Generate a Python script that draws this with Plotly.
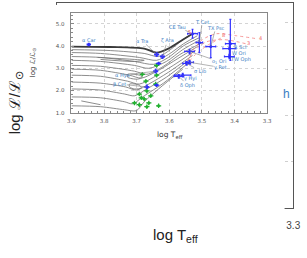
import plotly.graph_objects as go

W, H = 307, 258

# ---------------- data ----------------
star_names = ["α Car", "α Tra", "ζ Ara", "α Hya", "β Cet", "CE Tau", "T Cet", "TX Psc",
              "ο<sub>1</sub> Ori", "γ Ret", "σ Lib", "γ Hyi", "δ Oph", "R Scl", "W Ori", "TW Oph"]
star_logT = [3.847, 3.639, 3.621, 3.642, 3.669, 3.529, 3.508, 3.473,
             3.538, 3.538, 3.547, 3.559, 3.571, 3.413, 3.416, 3.416]
star_logL = [4.07, 3.62, 3.53, 2.87, 2.16, 4.56, 4.16, 3.98,
             3.76, 3.27, 3.22, 2.69, 2.64, 4.11, 3.89, 3.53]
star_errT = [0.005, 0.006, 0.006, 0.006, 0.006, 0.015, 0.010, 0.015,
             0.015, 0.012, 0.012, 0.025, 0.015, 0.015, 0.020, 0.015]
star_errL_up = [0.05, 0.08, 0.08, 0.08, 0.08, 0.20, 0.45, 0.50,
                0.10, 0.08, 0.08, 0.08, 0.08, 1.10, 0.35, 0.10]
star_errL_down = [0.05, 0.08, 0.08, 0.08, 0.08, 0.20, 0.45, 0.50,
                  0.10, 0.08, 0.08, 0.08, 0.08, 0.75, 0.35, 0.10]
# label anchor positions (log Teff, log L)
label_logT = [3.847, 3.683, 3.606, 3.743, 3.752, 3.574, 3.499, 3.458,
              3.449, 3.443, 3.505, 3.535, 3.544, 3.382, 3.387, 3.381]
label_logL = [4.29, 4.24, 4.24, 2.69, 2.29, 4.87, 5.09, 4.82,
              3.31, 3.04, 2.87, 2.56, 2.24, 3.97, 3.69, 3.41]
label_connector = [False, True, True, True, True, True, True, True,
                   True, True, True, True, True, False, False, False]

extra_blue_logT = [3.633, 3.639]
extra_blue_logL = [3.22, 2.24]

green_logT = [3.683, 3.639, 3.639, 3.642, 3.672, 3.692, 3.669, 3.657,
              3.677, 3.707, 3.692, 3.663, 3.669, 3.633, 3.686]
green_logL = [2.73, 3.13, 2.69, 2.29, 2.42, 1.84, 1.98, 1.76,
              1.62, 1.44, 1.36, 1.44, 1.27, 1.31, 1.67]

# evolutionary tracks (grey)
trackA_T = [3.900, 3.781, 3.677, 3.639, 3.603, 3.559, 3.529]
trackA_L = [3.98, 3.96, 3.89, 3.71, 3.89, 4.29, 4.56]
trackB_T = [3.900, 3.781, 3.677, 3.633, 3.597, 3.550, 3.520]
trackB_L = [3.84, 3.80, 3.67, 3.53, 3.84, 4.38, 4.60]
trackC_T = [3.900, 3.811, 3.692, 3.639, 3.603, 3.556, 3.514]
trackC_L = [3.71, 3.67, 3.49, 3.36, 3.62, 4.11, 4.47]
trackD_T = [3.900, 3.811, 3.707, 3.648, 3.603, 3.556, 3.508]
trackD_L = [3.53, 3.49, 3.31, 3.18, 3.49, 4.02, 4.38]
trackE_T = [3.900, 3.811, 3.707, 3.663, 3.609, 3.559, 3.505]
trackE_L = [3.36, 3.31, 3.13, 3.00, 3.31, 3.84, 4.29]
trackF_T = [3.900, 3.811, 3.707, 3.669, 3.618, 3.568, 3.499]
trackF_L = [3.13, 3.09, 2.87, 2.73, 3.09, 3.62, 4.16]
trackG_T = [3.900, 3.811, 3.722, 3.686, 3.633, 3.574, 3.514]
trackG_L = [2.96, 2.91, 2.69, 2.56, 2.91, 3.44, 3.98]
trackH_T = [3.900, 3.811, 3.728, 3.692, 3.648, 3.588, 3.520]
trackH_L = [2.69, 2.64, 2.42, 2.29, 2.60, 3.13, 3.80]
trackI_T = [3.900, 3.811, 3.734, 3.701, 3.663, 3.603, 3.529]
trackI_L = [2.38, 2.33, 2.16, 2.02, 2.29, 2.82, 3.58]
trackJ_T = [3.900, 3.811, 3.737, 3.707, 3.669, 3.609, 3.538]
trackJ_L = [2.07, 2.02, 1.84, 1.76, 2.07, 2.60, 3.40]
trackK_T = [3.900, 3.811, 3.737, 3.713, 3.677, 3.618, 3.544]
trackK_L = [1.71, 1.67, 1.49, 1.40, 1.76, 2.33, 3.22]
trackL_T = [3.900, 3.811, 3.737, 3.701, 3.677, 3.633, 3.559]
trackL_L = [1.31, 1.27, 1.13, 1.09, 1.49, 2.07, 2.96]
trackM_T = [3.870, 3.811]
trackM_L = [1.53, 1.36]
loop1_T = [3.728, 3.692, 3.683, 3.698, 3.728, 3.728]
loop1_L = [2.73, 2.69, 2.60, 2.51, 2.60, 2.73]
loop2_T = [3.722, 3.692, 3.686, 3.707, 3.722, 3.722]
loop2_L = [2.29, 2.24, 2.11, 2.07, 2.16, 2.29]
loop3_T = [3.820, 3.707, 3.677, 3.707, 3.811]
loop3_L = [3.49, 3.40, 3.36, 3.31, 3.40]

# model tracks (red dotted)
red1_T = [3.544, 3.526, 3.499, 3.455, 3.396, 3.330]
red1_L = [3.31, 3.84, 4.29, 4.56, 4.47, 4.33]
red2_T = [3.538, 3.514, 3.485, 3.431, 3.366]
red2_L = [3.49, 3.93, 4.20, 4.29, 4.11]
red3_T = [3.550, 3.520, 3.485, 3.434]
red3_L = [3.13, 3.62, 4.02, 4.42]
red_labels = ["4", "3", "8", "5"]
red_label_T = [3.322, 3.358, 3.434, 3.538]
red_label_L = [4.37, 4.15, 4.52, 4.64]

# ---------------- figure ----------------
def pxx(p):
    return p / W


def pxy(p):
    return 1 - p / H


fig = go.Figure()

# outer frame subplot, cover subplot and label axis (dummy traces to create them)
fig.add_trace(go.Scatter(x=[None], y=[None], xaxis="x", yaxis="y",
                         showlegend=False, hoverinfo="skip"))
fig.add_trace(go.Scatter(x=[None], y=[None], xaxis="x2", yaxis="y2",
                         showlegend=False, hoverinfo="skip"))
fig.add_trace(go.Scatter(x=[None], y=[None], xaxis="x4", yaxis="y3",
                         showlegend=False, hoverinfo="skip"))

grey_tracks = [(trackB_T, trackB_L), (trackC_T, trackC_L), (trackD_T, trackD_L),
               (trackE_T, trackE_L), (trackF_T, trackF_L), (trackG_T, trackG_L),
               (trackH_T, trackH_L), (trackI_T, trackI_L), (trackJ_T, trackJ_L),
               (trackK_T, trackK_L), (trackL_T, trackL_L), (trackM_T, trackM_L),
               (loop1_T, loop1_L), (loop2_T, loop2_L), (loop3_T, loop3_L)]
for tx, ty in grey_tracks:
    fig.add_trace(go.Scatter(x=tx, y=ty, mode="lines", xaxis="x3", yaxis="y3",
                             line=dict(color="#707070", width=0.8, shape="spline", smoothing=0.8),
                             showlegend=False, hoverinfo="skip"))
fig.add_trace(go.Scatter(x=trackA_T, y=trackA_L, mode="lines", xaxis="x3", yaxis="y3",
                         line=dict(color="#3a3a3a", width=1.8, shape="spline", smoothing=0.8),
                         showlegend=False, hoverinfo="skip"))

for tx, ty in [(red1_T, red1_L), (red2_T, red2_L), (red3_T, red3_L)]:
    fig.add_trace(go.Scatter(x=tx, y=ty, mode="lines", xaxis="x3", yaxis="y3",
                             line=dict(color="#f28080", width=0.8, dash="dot",
                                       shape="spline", smoothing=0.8),
                             showlegend=False, hoverinfo="skip"))

fig.add_trace(go.Scatter(x=green_logT, y=green_logL, mode="markers", xaxis="x3", yaxis="y3",
                         marker=dict(color="#22b030", size=3),
                         error_x=dict(type="constant", value=0.008, color="#22b030", thickness=1.2, width=0),
                         error_y=dict(type="constant", value=0.1, color="#22b030", thickness=1.2, width=0),
                         showlegend=False, hoverinfo="skip"))

fig.add_trace(go.Scatter(x=extra_blue_logT, y=extra_blue_logL, mode="markers", xaxis="x3", yaxis="y3",
                         marker=dict(color="#2b2bff", size=3),
                         error_x=dict(type="constant", value=0.008, color="#2b2bff", thickness=1.2, width=0),
                         error_y=dict(type="constant", value=0.08, color="#2b2bff", thickness=1.2, width=0),
                         showlegend=False, hoverinfo="skip"))

fig.add_trace(go.Scatter(x=star_logT, y=star_logL, mode="markers", xaxis="x3", yaxis="y3",
                         marker=dict(color="#2b2bff", size=3),
                         error_x=dict(type="data", array=star_errT, color="#3535ff", thickness=1.2, width=1),
                         error_y=dict(type="data", symmetric=False, array=star_errL_up,
                                      arrayminus=star_errL_down, color="#3535ff", thickness=1.2, width=1),
                         showlegend=False, hoverinfo="skip"))

LBL = dict(size=5, color="#3b7ec4", family="DejaVu Sans")
annotations = []
for name, sx, sy, lx, ly, conn in zip(star_names, star_logT, star_logL,
                                      label_logT, label_logL, label_connector):
    if conn:
        annotations.append(dict(x=sx, y=sy, xref="x3", yref="y3", ax=lx, ay=ly,
                                axref="x3", ayref="y3", text=name, showarrow=True,
                                arrowhead=0, arrowwidth=0.6, arrowcolor="#808080",
                                xanchor="center", yanchor="middle", borderpad=0, font=LBL))
    else:
        annotations.append(dict(x=lx, y=ly, xref="x3", yref="y3", text=name, showarrow=False,
                                xanchor="center", yanchor="middle", borderpad=0, font=LBL))
for t, lx, ly in zip(red_labels, red_label_T, red_label_L):
    annotations.append(dict(x=lx, y=ly, xref="x3", yref="y3", text=t, showarrow=False,
                            xanchor="center", yanchor="middle", borderpad=0,
                            font=dict(size=5, color="#f06060", family="DejaVu Sans")))

# inner titles
annotations.append(dict(x=pxx(30), y=pxy(63), xref="paper", yref="paper",
                        text="log ℒ/ℒ<sub>⊙</sub>", textangle=-90, showarrow=False,
                        xanchor="center", yanchor="middle",
                        font=dict(size=7, color="#333", family="DejaVu Sans")))
annotations.append(dict(x=pxx(172), y=pxy(137), xref="paper", yref="paper",
                        text="log T<sub>eff</sub>", showarrow=False,
                        xanchor="center", yanchor="middle",
                        font=dict(size=7.5, color="#333", family="DejaVu Sans")))
# outer titles
annotations.append(dict(x=pxx(12), y=pxy(104), xref="paper", yref="paper",
                        text="log ℒ/ℒ<sub>⊙</sub>", textangle=-90, showarrow=False,
                        xanchor="center", yanchor="middle",
                        font=dict(size=15, color="#222", family="Liberation Sans")))
annotations.append(dict(x=pxx(178), y=pxy(238), xref="paper", yref="paper",
                        text="log T<sub>eff</sub>", showarrow=False,
                        xanchor="center", yanchor="middle",
                        font=dict(size=15, color="#222", family="Liberation Sans")))
annotations.append(dict(x=pxx(293), y=pxy(95), xref="paper", yref="paper",
                        text="h", showarrow=False, xanchor="center", yanchor="middle",
                        font=dict(size=12, color="#3b7ec4", family="Liberation Sans")))

INNER_X = dict(range=[3.9, 3.3], dtick=0.1, tick0=3.3, tickformat=".1f")

fig.update_layout(
    width=W, height=H,
    margin=dict(l=0, r=0, t=0, b=0),
    paper_bgcolor="white", plot_bgcolor="white",
    showlegend=False,
    annotations=annotations,
    xaxis=dict(domain=[pxx(55), pxx(300)], range=[3.9, 3.3], anchor="y",
               tickvals=[3.3], ticktext=["3.3"], ticks="", showgrid=False, zeroline=False,
               showline=True, linecolor="#555", linewidth=1, mirror=True,
               ticklabelstandoff=8,
               tickfont=dict(size=10, color="#444", family="Liberation Sans")),
    yaxis=dict(domain=[pxy(210), pxy(3)], range=[1, 5.43], anchor="x",
               dtick=1, tick0=1, showticklabels=False, ticks="", zeroline=False,
               showgrid=True, gridcolor="#cfcfcf", griddash="dot", gridwidth=1,
               showline=True, linecolor="#555", linewidth=1, mirror=True),
    xaxis2=dict(domain=[pxx(22), pxx(291)], anchor="y2", visible=False, range=[0, 1]),
    yaxis2=dict(domain=[pxy(232), pxy(5)], anchor="x2", visible=False, range=[0, 1]),
    xaxis3=dict(domain=[pxx(70), pxx(273)], anchor="y3", **INNER_X,
                ticks="inside", ticklen=3, showticklabels=False,
                tickcolor="#888", showline=True, linecolor="#888", linewidth=1, mirror=True,
                showgrid=True, gridcolor="#d4d4d4", griddash="dot", gridwidth=1, zeroline=False,
                minor=dict(dtick=0.02, ticks="inside", ticklen=2, tickcolor="#888", showgrid=False)),
    xaxis4=dict(overlaying="x3", anchor="free", position=pxy(118), side="bottom", **INNER_X,
                ticks="", showline=False, showgrid=False, zeroline=False,
                tickfont=dict(size=5.5, color="#555", family="DejaVu Sans")),
    yaxis3=dict(domain=[pxy(114), pxy(13)], anchor="x3", range=[1.0, 5.5],
                dtick=1, tick0=1, tickformat=".1f", ticks="inside", ticklen=3,
                tickcolor="#888", showline=True, linecolor="#888", linewidth=1, mirror=True,
                showgrid=True, gridcolor="#d4d4d4", griddash="dot", gridwidth=1, zeroline=False,
                minor=dict(dtick=0.2, ticks="inside", ticklen=2, tickcolor="#888", showgrid=False),
                ticklabelstandoff=5,
                tickfont=dict(size=5.5, color="#555", family="DejaVu Sans")),
)

fig.write_html("out.html", config={"displayModeBar": False},
               post_script="document.body.style.margin='0';")
